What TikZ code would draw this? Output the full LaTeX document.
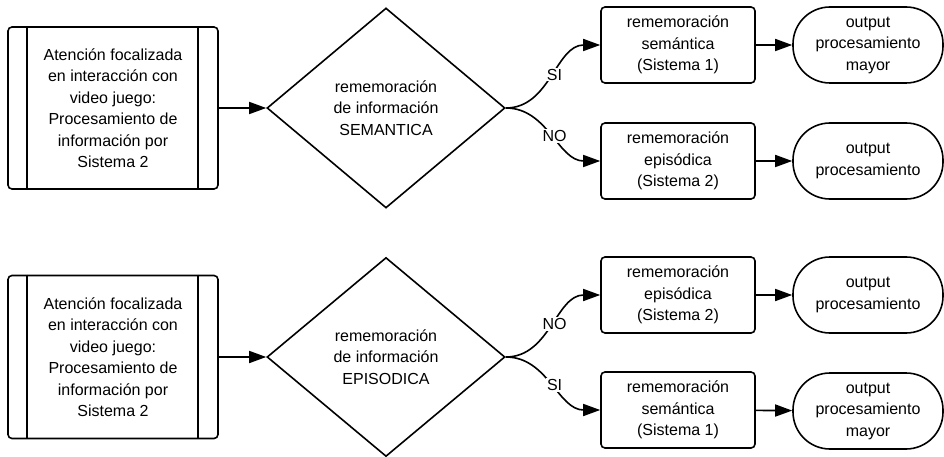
\documentclass[tikz,border=0pt]{standalone}
\usepackage{fontspec}
\setmainfont{Liberation Sans}
\usetikzlibrary{shapes.geometric, arrows.meta}

\tikzset{
    proceso/.style={draw, rectangle, rounded corners=4pt, line width=1.6pt, minimum width=210pt, minimum height=162pt, align=center},
    decision/.style={draw, diamond, line width=1.6pt, minimum width=238pt, minimum height=200pt, inner sep=0pt, align=center},
    caja/.style={draw, rectangle, rounded corners=4pt, line width=1.6pt, minimum width=154pt, minimum height=76pt, align=center},
    salida/.style={draw, rectangle, rounded corners=37pt, line width=1.6pt, minimum width=150pt, minimum height=76pt, align=center},
    flecha/.style={line width=1.6pt, -{Triangle[length=17pt, width=12pt]}},
    etiqueta/.style={fill=white, inner sep=1pt}
}

\begin{document}
\begin{tikzpicture}[x=1pt, y=-1pt, font=\fontsize{16}{21.5}\selectfont]
    \useasboundingbox (0, 0) rectangle (944, 457);

    % arriba: SEMANTICA
    \node[proceso] (A1) at (113, 108) {Atención focalizada\\en interacción con\\video juego:\\Procesamiento de\\información por\\Sistema 2};
    \draw[line width=1.6pt] ([xshift=20pt]A1.north west) -- ([xshift=20pt]A1.south west);
    \draw[line width=1.6pt] ([xshift=-21pt]A1.north east) -- ([xshift=-21pt]A1.south east);
    \node[decision] (D1) at (386, 108) {rememoración\\de información\\SEMANTICA};
    \node[caja] (S1) at (678, 45) {rememoración\\semántica\\(Sistema 1)};
    \node[caja] (E1) at (678, 161) {rememoración\\episódica\\(Sistema 2)};
    \node[salida] (O1) at (868, 45) {output\\procesamiento\\mayor};
    \node[salida] (P1) at (868, 161) {output\\procesamiento};

    \draw[flecha] (A1) -- (D1);
    \draw[flecha] (D1.east) to[out=0, in=180] node[etiqueta, pos=0.52] {SI} (S1.west);
    \draw[flecha] (D1.east) to[out=0, in=180] node[etiqueta, pos=0.52] {NO} (E1.west);
    \draw[flecha] (S1) -- (O1);
    \draw[flecha] (E1) -- (P1);

    % abajo: EPISODICA
    \node[proceso, minimum height=163pt] (A2) at (113, 357) {Atención focalizada\\en interacción con\\video juego:\\Procesamiento de\\información por\\Sistema 2};
    \draw[line width=1.6pt] ([xshift=20pt]A2.north west) -- ([xshift=20pt]A2.south west);
    \draw[line width=1.6pt] ([xshift=-21pt]A2.north east) -- ([xshift=-21pt]A2.south east);
    \node[decision, minimum height=199pt] (D2) at (386, 357) {rememoración\\de información\\EPISODICA};
    \node[caja] (E2) at (678, 295) {rememoración\\episódica\\(Sistema 2)};
    \node[caja] (S2) at (678, 410) {rememoración\\semántica\\(Sistema 1)};
    \node[salida] (P2) at (868, 295) {output\\procesamiento};
    \node[salida] (O2) at (868, 411) {output\\procesamiento\\mayor};

    \draw[flecha] (A2) -- (D2);
    \draw[flecha] (D2.east) to[out=0, in=180] node[etiqueta, pos=0.52] {NO} (E2.west);
    \draw[flecha] (D2.east) to[out=0, in=180] node[etiqueta, pos=0.52] {SI} (S2.west);
    \draw[flecha] (E2) -- (P2);
    \draw[flecha] (S2) -- (O2);
\end{tikzpicture}
\end{document}
